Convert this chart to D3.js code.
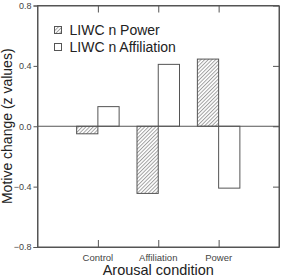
<!DOCTYPE html>
<html>
<head>
<meta charset="utf-8">
<script src="https://cdn.jsdelivr.net/npm/d3@7"></script>
<style>
  body { margin: 0; background: #fff; }
  text { font-family: "Liberation Sans", Arial, sans-serif; }
</style>
</head>
<body>
<div id="chart"></div>
<script>
const categories = ["Control", "Affiliation", "Power"];
const seriesNames = ["LIWC n Power", "LIWC n Affiliation"];
const powerValues = [-0.05, -0.445, 0.445];
const affiliationValues = [0.13, 0.41, -0.41];
const yTicks = [-0.8, -0.4, 0.0, 0.4, 0.8];

const W = 284, H = 279;
const margin = { top: 5.5, right: 5, bottom: 32, left: 37.5 };
const width = W - margin.left - margin.right;
const height = H - margin.top - margin.bottom;
const axisColor = "#555";

const svg = d3.select("#chart")
    .append("svg")
    .attr("width", W)
    .attr("height", H);

// hatch pattern for the power bars
svg.append("defs").append("pattern")
    .attr("id", "hatch")
    .attr("patternUnits", "userSpaceOnUse")
    .attr("width", 2.6)
    .attr("height", 2.6)
    .attr("patternTransform", "rotate(45)")
    .call(p => {
        p.append("rect").attr("width", 2.6).attr("height", 2.6).attr("fill", "#fff");
        p.append("line")
            .attr("x1", 0.5).attr("y1", 0).attr("x2", 0.5).attr("y2", 2.6)
            .attr("stroke", "#999").attr("stroke-width", 0.9);
    });

const g = svg.append("g")
    .attr("transform", `translate(${margin.left},${margin.top})`);

// Scales
const x = d3.scalePoint()
    .domain(categories)
    .range([0, width])
    .padding(1);

const y = d3.scaleLinear()
    .domain([-0.8, 0.8])
    .range([height, 0]);

const barW = x.step() * 0.352;

const rows = categories.map((c, i) => ({ cat: c, power: powerValues[i], affil: affiliationValues[i] }));

// Power bars (hatched)
g.selectAll(".bar-power")
    .data(rows)
    .enter()
    .append("rect")
    .attr("x", d => x(d.cat) - barW)
    .attr("y", d => y(Math.max(0, d.power)))
    .attr("width", barW)
    .attr("height", d => Math.abs(y(d.power) - y(0)))
    .attr("fill", "url(#hatch)")
    .attr("stroke", axisColor)
    .attr("stroke-width", 1);

// Affiliation bars (white)
g.selectAll(".bar-affil")
    .data(rows)
    .enter()
    .append("rect")
    .attr("x", d => x(d.cat))
    .attr("y", d => y(Math.max(0, d.affil)))
    .attr("width", barW)
    .attr("height", d => Math.abs(y(d.affil) - y(0)))
    .attr("fill", "#fff")
    .attr("stroke", axisColor)
    .attr("stroke-width", 1);

// zero line
g.append("line")
    .attr("x1", 0).attr("x2", width)
    .attr("y1", y(0)).attr("y2", y(0))
    .attr("stroke", axisColor);

// Left axis
const yAxis = g.append("g")
    .call(d3.axisLeft(y).tickValues(yTicks).tickFormat(d3.format(".1f")).tickSize(4).tickPadding(2));

// Right axis, inward ticks
const yAxisR = g.append("g")
    .attr("transform", `translate(${width},0)`)
    .call(d3.axisLeft(y).tickValues(yTicks).tickFormat("").tickSizeInner(6).tickSizeOuter(0));

// Bottom axis, inward ticks
const xAxis = g.append("g")
    .attr("transform", `translate(0,${height})`)
    .call(d3.axisTop(x).tickSizeInner(7).tickSizeOuter(0).tickFormat(""));

// Top axis, inward ticks
const xAxisTop = g.append("g")
    .call(d3.axisBottom(x).tickSizeInner(7).tickSizeOuter(0).tickFormat(""));

// x tick labels
g.selectAll(".xlab")
    .data(categories)
    .enter()
    .append("text")
    .attr("x", d => x(d))
    .attr("y", height + 14)
    .attr("text-anchor", "middle")
    .style("font-size", "9.5px")
    .attr("fill", "#444")
    .text(d => d);

[yAxis, yAxisR, xAxis, xAxisTop].forEach(a => {
    a.select(".domain").attr("stroke", axisColor);
    a.selectAll(".tick line").attr("stroke", axisColor);
    a.selectAll(".tick text")
        .attr("fill", "#444")
        .style("font-size", "9px")
        .style("font-family", "Liberation Sans, Arial, sans-serif");
});

// frame
g.append("rect")
    .attr("width", width).attr("height", height)
    .attr("fill", "none").attr("stroke", axisColor);

// Axis titles
svg.append("text")
    .attr("x", margin.left + x("Affiliation"))
    .attr("y", H - 4)
    .attr("text-anchor", "middle")
    .style("font-size", "14.5px")
    .attr("fill", "#222")
    .text("Arousal condition");

svg.append("text")
    .attr("transform", `translate(12,${margin.top + y(0)}) rotate(-90)`)
    .attr("text-anchor", "middle")
    .style("font-size", "14px")
    .attr("fill", "#222")
    .text("Motive change (z values)");

// Legend
const legend = g.append("g")
    .attr("transform", "translate(17,21)");

seriesNames.forEach((name, i) => {
    const row = legend.append("g")
        .attr("transform", `translate(0, ${i * 17})`);
    row.append("rect")
        .attr("width", 7)
        .attr("height", 7)
        .attr("fill", i === 0 ? "url(#hatch)" : "#fff")
        .attr("stroke", axisColor);
    row.append("text")
        .attr("x", 15)
        .attr("y", 8)
        .style("font-size", "14px")
        .attr("fill", "#222")
        .text(name);
});
</script>
</body>
</html>
